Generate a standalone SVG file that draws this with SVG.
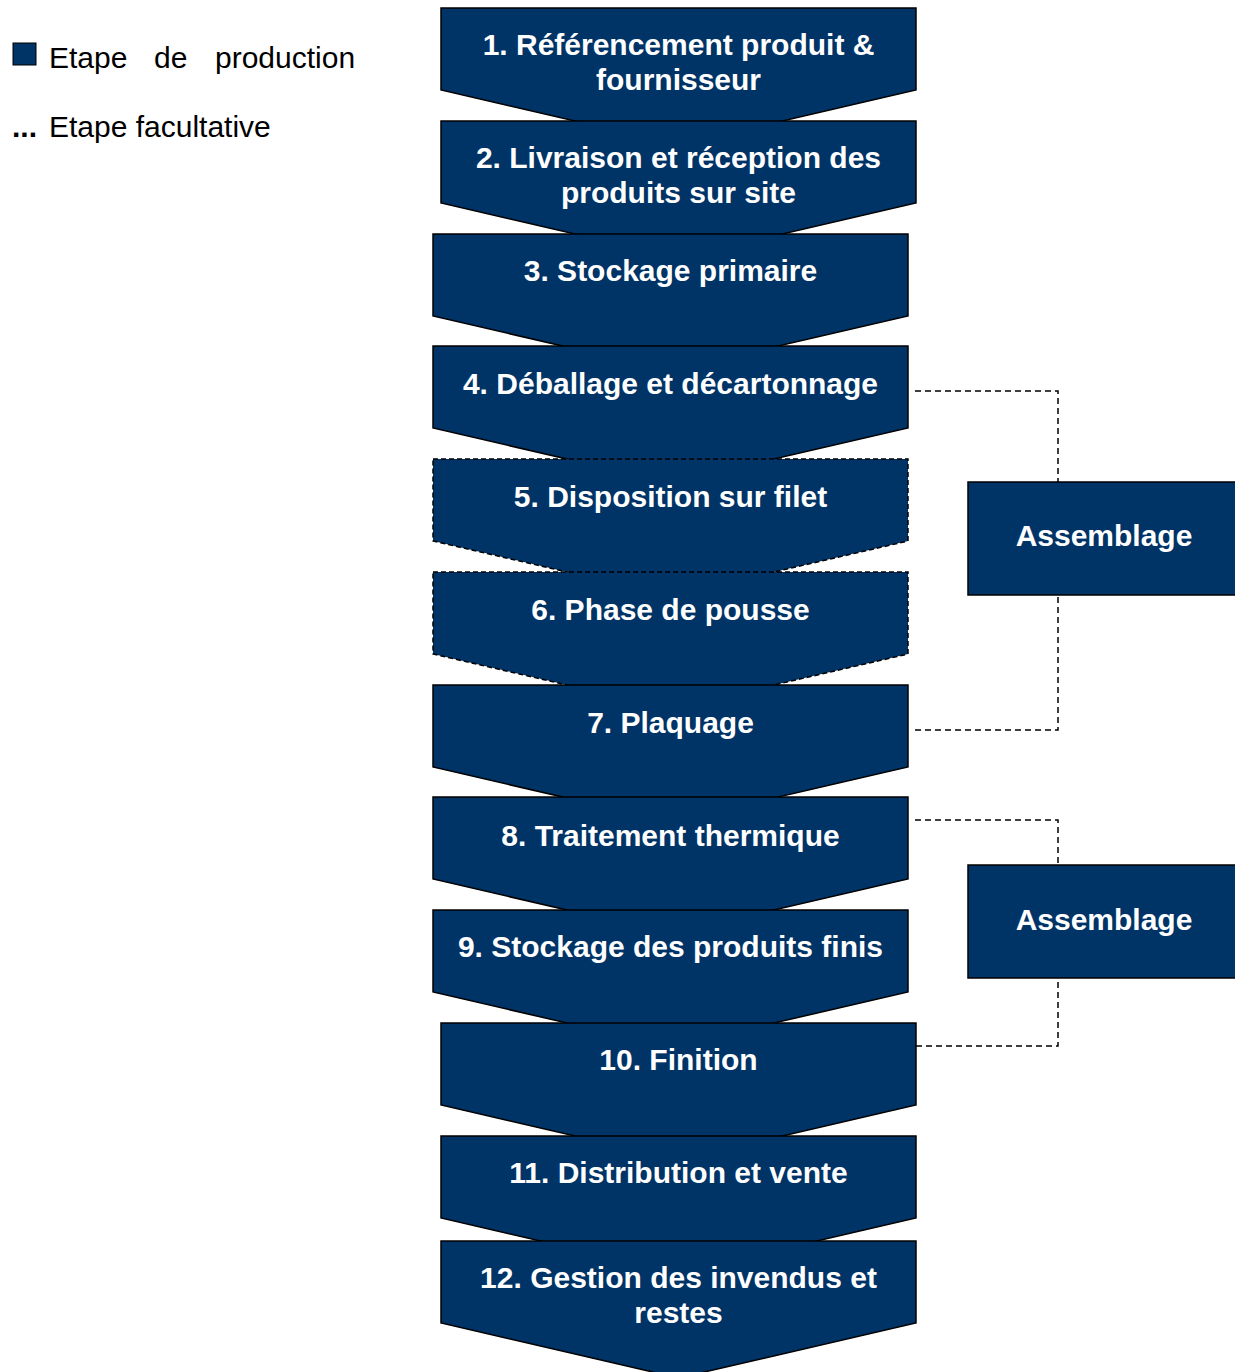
<svg xmlns="http://www.w3.org/2000/svg" width="1235" height="1372" viewBox="0 0 1235 1372">
<defs>
<style>
.step{fill:#003366;stroke:#000;stroke-width:1.5;stroke-linejoin:miter}
.opt{stroke-dasharray:5 3}
.lbl{font-family:"Liberation Sans",Arial,Helvetica,sans-serif;font-weight:bold;font-size:30px;fill:#fff;text-anchor:middle}
.leg{font-family:"Liberation Sans",Arial,Helvetica,sans-serif;font-size:30px;fill:#000}
.conn{fill:none;stroke:#000;stroke-width:1.5;stroke-dasharray:6 4}
.box{fill:#003366;stroke:#000;stroke-width:1.5}
</style>
</defs>
<rect width="1235" height="1372" fill="#fff"/>

<g id="legend">
<rect x="13" y="43" width="23" height="22" fill="#003366" stroke="#000" stroke-width="1"/>
<text class="leg" x="49" y="68">Etape</text>
<text class="leg" x="154" y="68">de</text>
<text class="leg" x="215" y="68">production</text>
<text class="leg" x="12" y="137" font-weight="bold">...</text>
<text class="leg" x="49" y="137">Etape facultative</text>
</g>

<g id="connectors">
<path class="conn" d="M915,391 H1058 V482"/>
<path class="conn" d="M915,730 H1058 V595"/>
<path class="conn" d="M915,820 H1058 V865"/>
<path class="conn" d="M916,1046 H1058 V978"/>
</g>

<g id="step1">
<path class="step" d="M441,8 H916 V90 L678.5,145 L441,90 Z"/>
<text class="lbl" x="678.5" y="55">1. Référencement produit &amp;</text>
<text class="lbl" x="678.5" y="90">fournisseur</text>
</g>
<g id="step2">
<path class="step" d="M441,121 H916 V203 L678.5,258 L441,203 Z"/>
<text class="lbl" x="678.5" y="168">2. Livraison et réception des</text>
<text class="lbl" x="678.5" y="203">produits sur site</text>
</g>
<g id="step3">
<path class="step" d="M433,234 H908 V316 L670.5,371 L433,316 Z"/>
<text class="lbl" x="670.5" y="281">3. Stockage primaire</text>
</g>
<g id="step4">
<path class="step" d="M433,346 H908 V428 L670.5,483 L433,428 Z"/>
<text class="lbl" x="670.5" y="394">4. Déballage et décartonnage</text>
</g>
<g id="step5">
<path class="step opt" d="M433,459 H908 V541 L670.5,596 L433,541 Z"/>
<text class="lbl" x="670.5" y="507">5. Disposition sur filet</text>
</g>
<g id="step6">
<path class="step opt" d="M433,572 H908 V654 L670.5,709 L433,654 Z"/>
<text class="lbl" x="670.5" y="620">6. Phase de pousse</text>
</g>
<g id="step7">
<path class="step" d="M433,685 H908 V767 L670.5,822 L433,767 Z"/>
<text class="lbl" x="670.5" y="733">7. Plaquage</text>
</g>
<g id="step8">
<path class="step" d="M433,797 H908 V879 L670.5,934 L433,879 Z"/>
<text class="lbl" x="670.5" y="846">8. Traitement thermique</text>
</g>
<g id="step9">
<path class="step" d="M433,910 H908 V992 L670.5,1047 L433,992 Z"/>
<text class="lbl" x="670.5" y="957">9. Stockage des produits finis</text>
</g>
<g id="step10">
<path class="step" d="M441,1023 H916 V1105 L678.5,1160 L441,1105 Z"/>
<text class="lbl" x="678.5" y="1070">10. Finition</text>
</g>
<g id="step11">
<path class="step" d="M441,1136 H916 V1218 L678.5,1273 L441,1218 Z"/>
<text class="lbl" x="678.5" y="1183">11. Distribution et vente</text>
</g>
<g id="step12">
<path class="step" d="M441,1241 H916 V1323 L678.5,1378 L441,1323 Z"/>
<text class="lbl" x="678.5" y="1288">12. Gestion des invendus et</text>
<text class="lbl" x="678.5" y="1323">restes</text>
</g>

<g id="assemblage1">
<rect class="box" x="968" y="482" width="272" height="113"/>
<text class="lbl" x="1104" y="546">Assemblage</text>
</g>
<g id="assemblage2">
<rect class="box" x="968" y="865" width="272" height="113"/>
<text class="lbl" x="1104" y="930">Assemblage</text>
</g>
</svg>
